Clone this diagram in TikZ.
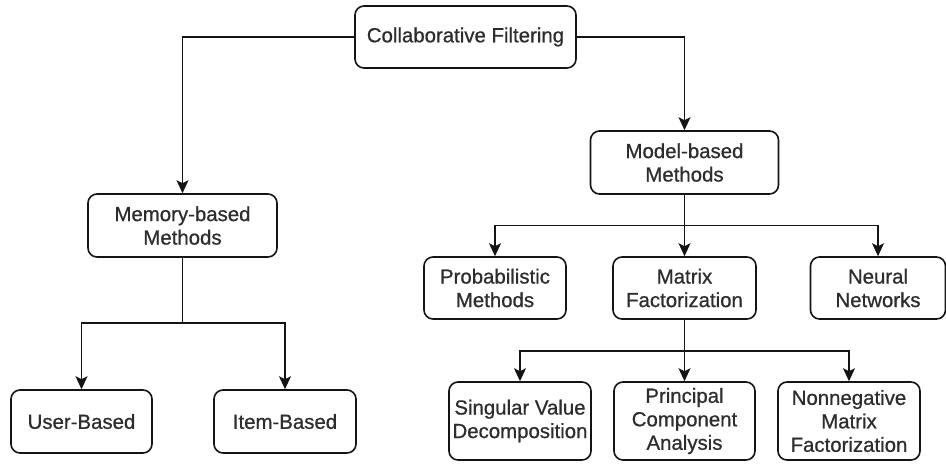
\documentclass[tikz,border=0pt]{standalone}
\usepackage{fontspec}
\setmainfont{Liberation Sans}[BoldFont={Liberation Sans},BoldFeatures={FakeBold=0.7}]
\usetikzlibrary{arrows.meta}
\definecolor{txt}{RGB}{45,45,45}
\definecolor{ln}{RGB}{20,20,20}
\tikzset{
  box/.style={draw=ln, line width=1.6pt, rounded corners=9pt, fill=white,
    align=center, text=txt, inner sep=0pt,
    font=\fontsize{20.4}{23.5}\selectfont\bfseries},
  conn/.style={draw=ln, line width=1.6pt},
  arr/.style={conn, -{Stealth[length=13pt,width=12pt,inset=3pt]}}
}
\begin{document}
\begin{tikzpicture}[x=1pt,y=-1pt]
\useasboundingbox (0,0) rectangle (946,464);
\node[box, minimum width=221pt, minimum height=62pt] (cf) at (465.5,37) {Collaborative Filtering};
\node[box, minimum width=189pt, minimum height=63pt] (mem) at (182.5,225.5) {Memory-based\\Methods};
\node[box, minimum width=141pt, minimum height=63pt] (user) at (81.5,421.5) {User-Based};
\node[box, minimum width=142pt, minimum height=63pt] (item) at (285,421.5) {Item-Based};
\node[box, minimum width=188pt, minimum height=63pt] (model) at (684.5,162.5) {Model-based\\Methods};
\node[box, minimum width=142pt, minimum height=62pt] (prob) at (495,288) {Probabilistic\\Methods};
\node[box, minimum width=143pt, minimum height=62pt] (mat) at (684.5,288) {Matrix\\Factorization};
\node[box, minimum width=135pt, minimum height=62pt] (neur) at (878,288) {Neural\\Networks};
\node[box, minimum width=142pt, minimum height=78pt] (svd) at (520,421) {Singular Value\\Decomposition};
\node[box, minimum width=141pt, minimum height=78pt] (pca) at (684.5,421) {Principal\\Component\\Analysis};
\node[box, minimum width=142pt, minimum height=78pt] (nmf) at (849,421) {Nonnegative\\Matrix\\Factorization};

\coordinate (j1) at (182.5,323);
\coordinate (j2) at (684.5,225.5);
\coordinate (j3) at (684.5,351);

\draw[arr] (cf.west) -| (mem.north);
\draw[arr] (cf.east) -| (model.north);

\draw[conn] (mem.south) -- (j1);
\draw[arr] (j1) -| (user.north);
\draw[arr] (j1) -| (item.north);

\draw[conn] (model.south) -- (j2);
\draw[arr] (j2) -| (prob.north);
\draw[arr] (j2) -- (mat.north);
\draw[arr] (j2) -| (neur.north);

\draw[conn] (mat.south) -- (j3);
\draw[arr] (j3) -| (svd.north);
\draw[arr] (j3) -- (pca.north);
\draw[arr] (j3) -| (nmf.north);
\end{tikzpicture}
\end{document}
